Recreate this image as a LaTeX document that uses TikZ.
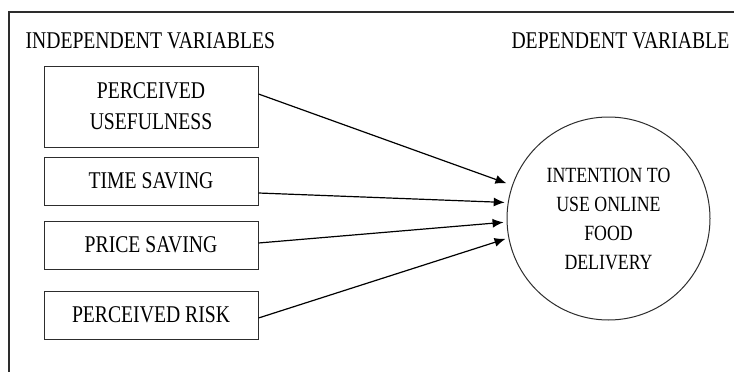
\documentclass[tikz,border=0pt]{standalone}
\usepackage{fontspec}
\setmainfont{Liberation Serif}[FakeStretch=0.82]
\usepackage{tikz}
\usetikzlibrary{arrows.meta}
\definecolor{framegray}{RGB}{45,45,45}

\begin{document}
\begin{tikzpicture}[
    x=1pt, y=-1pt,
    var/.style={rectangle, draw=framegray, line width=1pt, minimum width=214pt,
                inner sep=0pt, align=center, font=\fontsize{24}{31}\selectfont},
    dep/.style={circle, draw=framegray, line width=1pt, minimum size=203pt,
                inner sep=0pt, align=center, font=\fontsize{21.7}{29}\selectfont},
    head/.style={anchor=west, font=\fontsize{24}{31}\selectfont},
    arrow/.style={-{Latex[length=11pt,width=9pt]}, line width=1.2pt, shorten >=3pt}
]
\useasboundingbox (0,0) rectangle (734,372);

% outer frame (cut off at right and bottom)
\draw[framegray, line width=1.4pt] (9,372) -- (9,12) -- (734,12);

% headings
\node[head] (indep) at (22,41) {INDEPENDENT VARIABLES};
\node[head] (depv)  at (508,41) {DEPENDENT VARIABLE};

% independent variables
\node[var, minimum height=81pt] (pu) at (151,106.5) {PERCEIVED\\USEFULNESS};
\node[var, minimum height=48pt] (ts) at (151,181) {TIME SAVING};
\node[var, minimum height=48pt] (ps) at (151,245) {PRICE SAVING};
\node[var, minimum height=48pt] (pr) at (151,315) {PERCEIVED RISK};

% dependent variable
\node[dep] (itu) at (608.5,218.5) {INTENTION TO\\USE ONLINE\\FOOD\\DELIVERY};

% arrows
\draw[arrow, shorten >=6pt] ([yshift=12.5pt]pu.east) -- (itu.161.4);
\draw[arrow] ([yshift=-12pt]ts.east) -- (itu.171.5);
\draw[arrow] ([yshift=2pt]ps.east) -- (itu.182.6);
\draw[arrow] ([yshift=-3pt]pr.east) -- (itu.191.7);

\end{tikzpicture}
\end{document}
